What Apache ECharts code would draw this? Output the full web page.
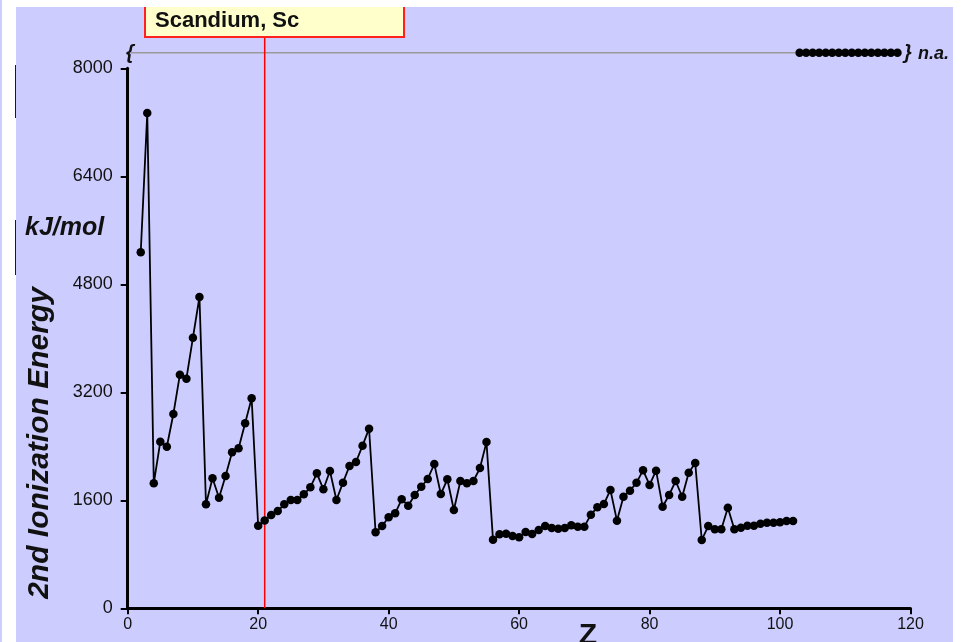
<!DOCTYPE html>
<html>
<head>
<meta charset="utf-8">
<title>2nd Ionization Energy</title>
<script src="https://cdn.jsdelivr.net/npm/echarts@6/dist/echarts.min.js"></script>
<style>
  html, body { margin: 0; padding: 0; background: #ffffff; width: 967px; height: 642px; overflow: hidden; }
  #edge { position: absolute; left: 0; top: 0; width: 2px; height: 642px; background: #ccccff; }
  .rule { position: absolute; left: 15px; width: 2px; background: #1a1a1a; }
  #chart { position: absolute; left: 16px; top: 7px; width: 937px; height: 635px; }
</style>
</head>
<body>
<div id="edge"></div>
<div class="rule" style="top:65px;height:53px"></div>
<div class="rule" style="top:220px;height:55px"></div>
<div id="chart"></div>
<script>
// Atomic numbers with a known 2nd ionization energy (He .. No)
const atomicNumbers = [
  2, 3, 4, 5, 6, 7, 8, 9, 10, 11, 12, 13, 14, 15, 16, 17, 18, 19, 20, 21,
  22, 23, 24, 25, 26, 27, 28, 29, 30, 31, 32, 33, 34, 35, 36, 37, 38, 39, 40, 41,
  42, 43, 44, 45, 46, 47, 48, 49, 50, 51, 52, 53, 54, 55, 56, 57, 58, 59, 60, 61,
  62, 63, 64, 65, 66, 67, 68, 69, 70, 71, 72, 73, 74, 75, 76, 77, 78, 79, 80, 81,
  82, 83, 84, 85, 86, 87, 88, 89, 90, 91, 92, 93, 94, 95, 96, 97, 98, 99, 100, 101, 102
];

// 2nd ionization energy, kJ/mol
const secondIE = [
  5274, 7338, 1852, 2468, 2394, 2878, 3461, 3401, 4009, 4612,
  1541, 1926, 1639, 1960, 2311, 2370, 2741, 3111, 1222, 1300,
  1382, 1441, 1541, 1604, 1604, 1689, 1793, 2000, 1763, 2034,
  1604, 1861, 2108, 2167, 2409, 2661, 1126, 1219, 1348, 1407,
  1615, 1520, 1679, 1801, 1916, 2138, 1693, 1911, 1456, 1886,
  1852, 1886, 2078, 2462, 1015, 1096, 1105, 1071, 1052, 1130,
  1101, 1160, 1219, 1190, 1179, 1190, 1230, 1209, 1209, 1387,
  1496, 1545, 1753, 1298, 1653, 1742, 1861, 2044, 1827, 2039,
  1505, 1679, 1886, 1653, 2009, 2153, 1012, 1219, 1170, 1170,
  1491, 1170, 1194, 1224, 1224, 1254, 1268, 1268, 1274, 1293, 1293
];

// Elements without data, shown on the "n.a." row above the axis
const naNumbers = [103, 104, 105, 106, 107, 108, 109, 110, 111, 112, 113, 114, 115, 116, 117, 118];
const naLevel = 8230;

// Highlighted element
const highlightZ = 21;
const highlightName = 'Scandium, Sc';

// Axis ticks
const xTicks = { min: 0, max: 120, step: 20 };
const yTicks = { min: 0, max: 8000, step: 1600 };

const font = '"Liberation Sans", Arial, Helvetica, sans-serif';
const ink = '#111111';

const mainData = atomicNumbers.map((z, i) => [z, secondIE[i]]);
const naData = naNumbers.map(z => [z, naLevel]);

const chart = echarts.init(document.getElementById('chart'), null, { renderer: 'canvas' });

chart.setOption({
  backgroundColor: '#ccccff',
  animation: false,
  grid: { left: 111.7, right: 42.5, top: 61.3, bottom: 33.7 },
  xAxis: {
    type: 'value',
    min: xTicks.min, max: xTicks.max, interval: xTicks.step,
    axisLine: { show: true, lineStyle: { color: '#000', width: 3 } },
    axisTick: { show: true, inside: false, length: 6, lineStyle: { color: '#000', width: 2 } },
    axisLabel: { color: ink, fontSize: 16, fontFamily: font, margin: 8, formatter: v => String(v) },
    splitLine: { show: false }
  },
  yAxis: {
    type: 'value',
    min: yTicks.min, max: yTicks.max, interval: yTicks.step,
    axisLine: { show: true, lineStyle: { color: '#000', width: 3 } },
    axisTick: { show: true, inside: false, length: 7, lineStyle: { color: '#000', width: 2 } },
    axisLabel: { color: ink, fontSize: 18, fontFamily: font, margin: 15, formatter: v => String(v) },
    splitLine: { show: false }
  },
  series: [
    {
      // gray guide row leading to the missing values
      type: 'line',
      data: [[0.5, naLevel], [naNumbers[0] - 0.7, naLevel]],
      symbol: 'none',
      clip: false,
      lineStyle: { color: '#9a9a9a', width: 1.5 },
      silent: true,
      z: 1
    },
    {
      // marker for the highlighted element, up to the name box
      type: 'line',
      data: [[highlightZ, 0], [highlightZ, 8460]],
      symbol: 'none',
      clip: false,
      lineStyle: { color: '#ff0000', width: 1.5 },
      silent: true,
      z: 1
    },
    {
      type: 'line',
      data: mainData,
      symbol: 'circle',
      symbolSize: 8.5,
      itemStyle: { color: '#000' },
      lineStyle: { color: '#000', width: 1.8 },
      z: 3
    },
    {
      type: 'line',
      data: naData,
      symbol: 'circle',
      symbolSize: 8.5,
      clip: false,
      itemStyle: { color: '#000' },
      lineStyle: { color: '#000', width: 1.8 },
      z: 3
    }
  ],
  graphic: [
    {
      type: 'rect', z: 100,
      shape: { x: 129, y: -10, width: 259, height: 40 },
      style: { fill: '#ffffcc', stroke: '#ff2020', lineWidth: 2 }
    },
    {
      type: 'text', z: 101,
      x: 139, y: 14,
      style: { text: highlightName, font: 'bold 22px ' + font, fill: '#111', textVerticalAlign: 'middle' }
    },
    {
      type: 'text', z: 100,
      x: 24, y: 436, rotation: Math.PI / 2,
      style: {
        text: '2nd Ionization Energy', font: 'italic bold 30px ' + font, fill: '#111',
        textAlign: 'center', textVerticalAlign: 'middle'
      }
    },
    {
      type: 'text', z: 100,
      x: 9, y: 221,
      style: { text: 'kJ/mol', font: 'italic bold 25px ' + font, fill: '#111', textVerticalAlign: 'middle' }
    },
    {
      type: 'text', z: 100,
      x: 572, y: 614,
      style: { text: 'Z', font: 'bold 30px ' + font, fill: '#111', textAlign: 'center', textVerticalAlign: 'top' }
    },
    {
      type: 'text', z: 100,
      x: 110, y: 46,
      style: { text: '{', font: 'italic bold 20px ' + font, fill: '#111', textVerticalAlign: 'middle' }
    },
    {
      type: 'text', z: 100,
      x: 888, y: 46,
      style: { text: '}', font: 'italic bold 20px ' + font, fill: '#111', textVerticalAlign: 'middle' }
    },
    {
      type: 'text', z: 100,
      x: 902, y: 47,
      style: { text: 'n.a.', font: 'italic bold 18px ' + font, fill: '#111', textVerticalAlign: 'middle' }
    }
  ]
});
</script>
</body>
</html>
